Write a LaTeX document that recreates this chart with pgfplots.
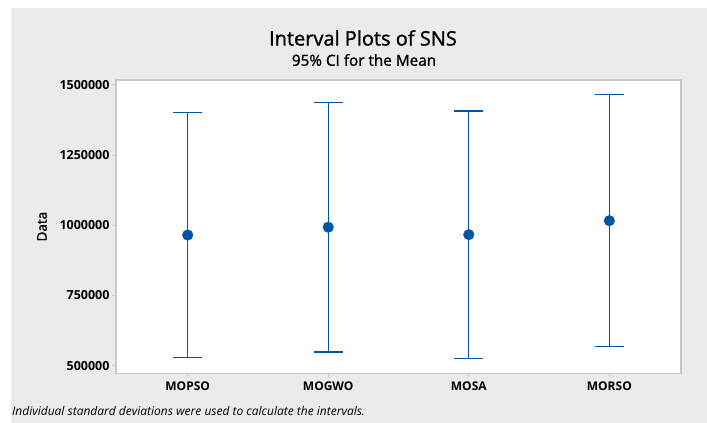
\documentclass[border=0pt]{standalone}
\usepackage{pgfplots}
\pgfplotsset{compat=1.18}
\usepackage{pgfplotstable}
\usepackage{fontspec}
\setmainfont{Open Sans}
\newfontfamily\semib{Open Sans}[FakeBold=1.2]

\definecolor{bggray}{RGB}{235,235,235}
\definecolor{ciblue}{RGB}{0,84,166}
\definecolor{framegray}{RGB}{200,200,200}

% x, mean, half-width of the 95% CI
\pgfplotstableread{
x mean err
0 965500 437000
1 993400 444600
2 966900 440500
3 1016600 448900
}\cidata

\begin{document}
\begin{tikzpicture}
\path[use as bounding box] (0,0) rectangle (707bp,423bp);
\fill[white] (0,0) rectangle (707bp,423bp);
\fill[bggray] (11bp,0) rectangle (707bp,415bp);

\node[font=\fontsize{20bp}{24bp}\selectfont\semib] at (363bp,385bp) {Interval Plots of SNS};
\node[font=\fontsize{15.3bp}{18bp}\selectfont\semib] at (364bp,363bp) {95\% CI for the Mean};
\node[anchor=west, inner sep=0pt, font=\fontsize{12bp}{14bp}\selectfont\itshape] at (12bp,12bp)
  {Individual standard deviations were used to calculate the intervals.};

\begin{axis}[
    at={(116bp,49.7bp)}, anchor=south west,
    width=565bp, height=293.3bp, scale only axis,
    xmin=-0.51, xmax=3.51,
    ymin=472900, ymax=1517800,
    scaled y ticks=false,
    xtick={0,1,2,3},
    xticklabels={MOPSO,MOGWO,MOSA,MORSO},
    ytick={500000,750000,1000000,1250000,1500000},
    yticklabels={500000,750000,1000000,1250000,1500000},
    tick align=outside,
    xtick pos=bottom, ytick pos=left,
    major tick length=4bp,
    tick style={framegray, line width=1bp},
    axis line style={framegray, line width=1.3bp},
    axis background/.style={fill=white},
    x tick label style={font=\fontsize{12bp}{14bp}\selectfont\bfseries, yshift=-1bp},
    y tick label style={font=\fontsize{12.5bp}{14bp}\selectfont\bfseries, xshift=1bp},
    ylabel={Data},
    ylabel style={at={(axis description cs:-0.131,0.5)}, anchor=center,
      font=\fontsize{13.5bp}{16bp}\selectfont\semib},
]
\addplot[
    only marks, ciblue,
    mark=*, mark size=5.3bp,
    mark options={fill=ciblue, draw=ciblue},
    error bars/.cd,
      y dir=both, y explicit,
      error mark=-,
      error mark options={rotate=90, mark size=14.5bp, line width=1.3bp, ciblue},
      error bar style={line width=1.3bp, ciblue},
] table[x=x, y=mean, y error=err] {\cidata};
\end{axis}
\end{tikzpicture}
\end{document}
